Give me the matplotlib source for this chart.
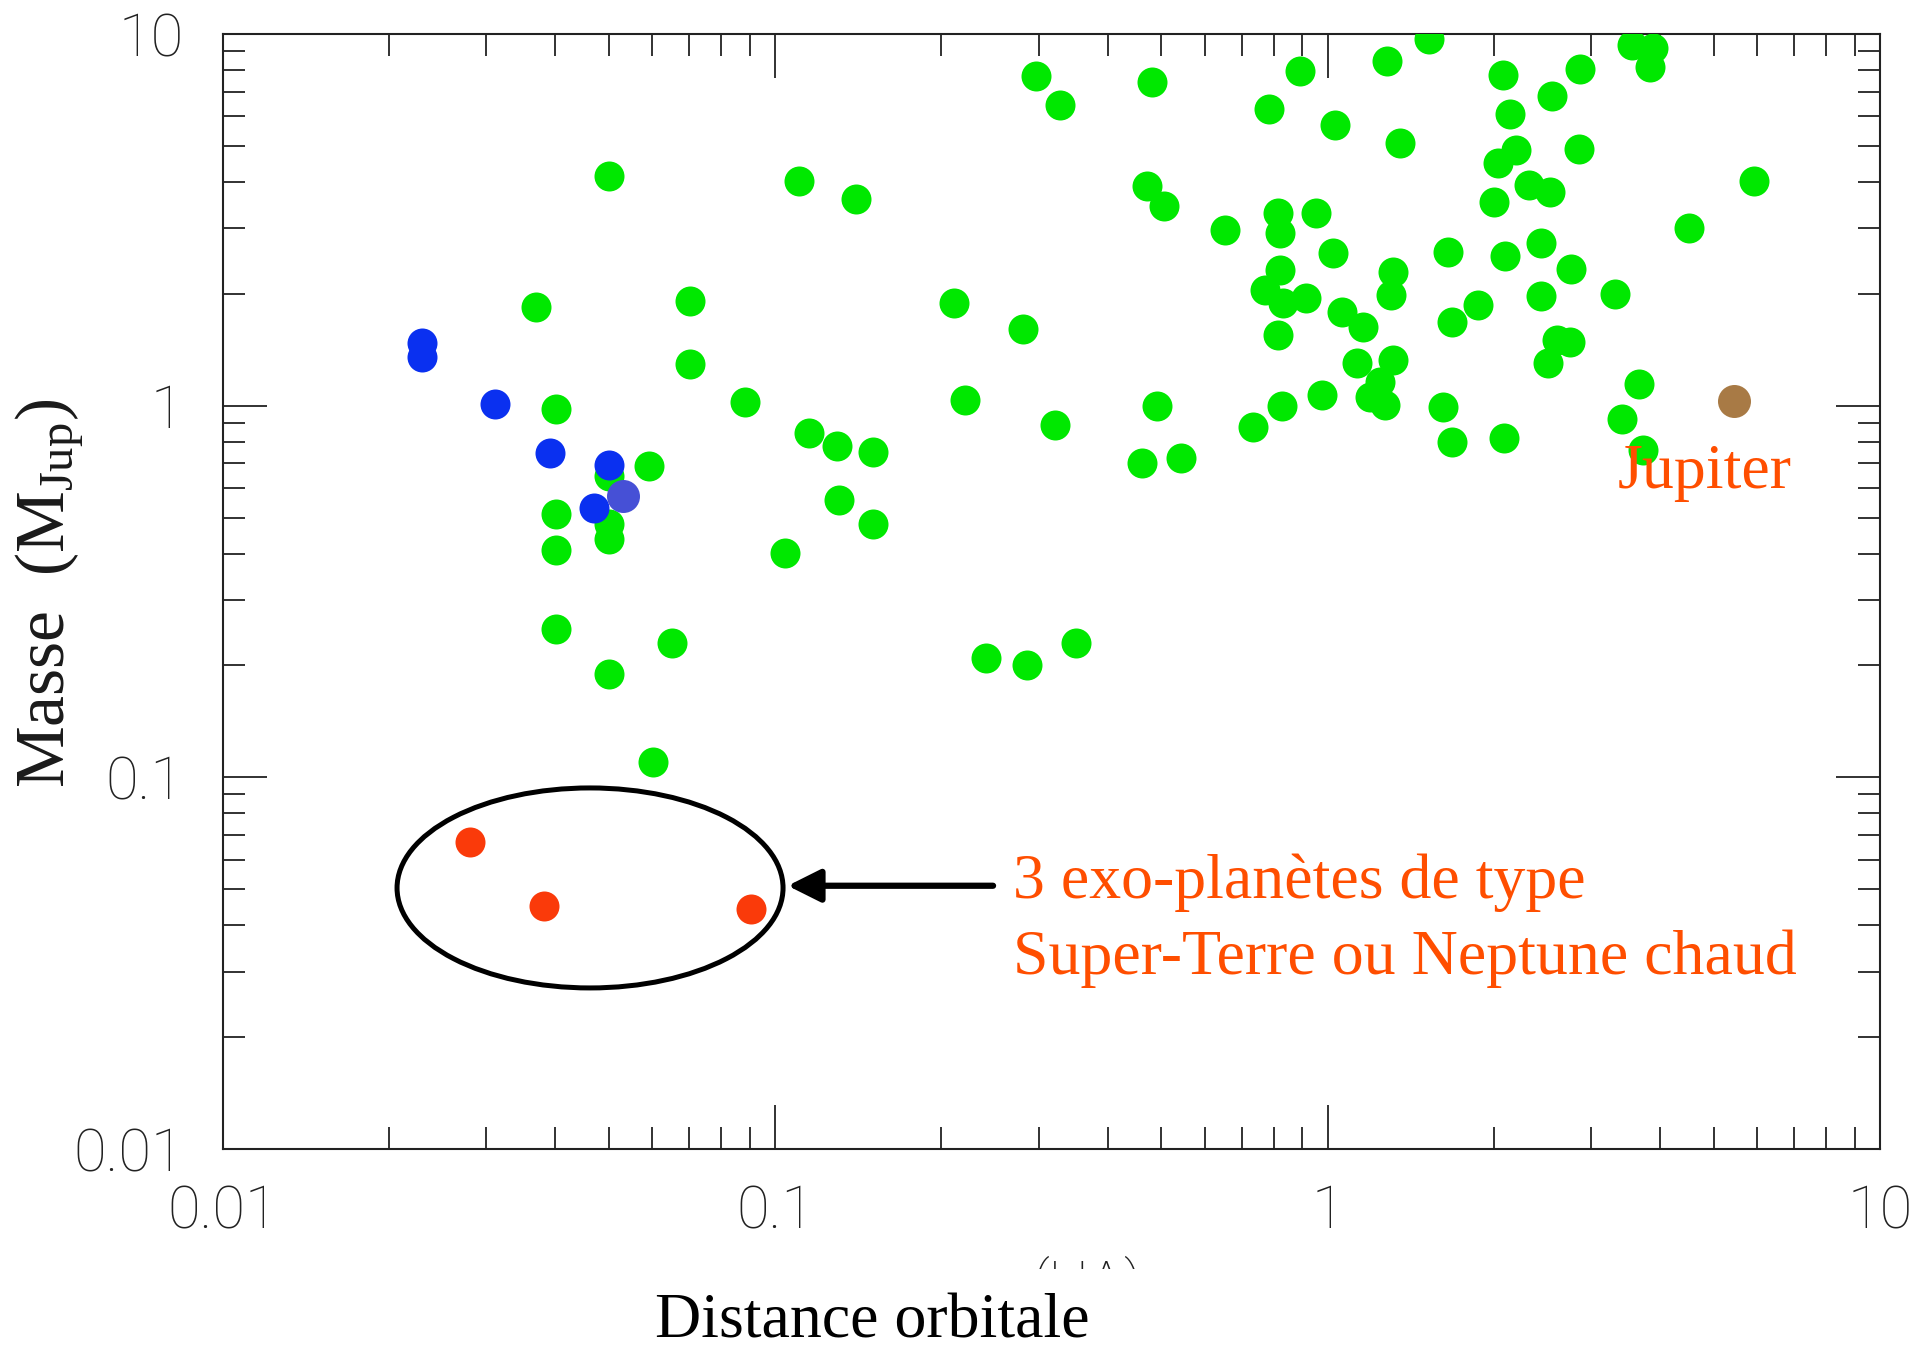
import matplotlib
matplotlib.use("Agg")
import matplotlib.pyplot as plt
import numpy as np
from matplotlib.patches import Ellipse
from matplotlib.ticker import FixedLocator, FixedFormatter, LogLocator, NullFormatter
from matplotlib.transforms import Bbox, TransformedBbox

# ---------------- data (orbital distance in AU, mass in M_Jup) ----------------
green_a = [0.0370, 0.0702, 0.0702, 0.0401, 0.0883, 0.1154, 0.1293, 0.1506, 0.1306, 0.1506,
           0.0592, 0.0501, 0.0501, 0.0501, 0.0401, 0.0401, 0.0401, 0.0652, 0.0501, 0.1042,
           0.0602, 0.0501, 0.1103, 0.1400, 0.2968, 0.3280, 0.4818, 0.4707, 0.5060, 0.2109,
           0.2808, 0.2211, 0.3212, 0.4920, 0.4621, 0.5424, 0.2410, 0.2855, 0.3506,
           0.6515, 0.7824, 0.8906, 1.031, 1.279, 1.354, 1.524, 2.076, 2.140, 2.549,
           2.869, 2.190, 2.035, 2.848, 3.557, 3.878, 3.841, 5.920, 4.515, 2.318,
           2.526, 2.001, 0.8147, 0.8204, 0.9520, 1.0245, 0.8204, 0.7707, 0.8318, 0.9144,
           0.8126, 1.061, 1.161, 1.129, 1.316, 1.245, 1.194, 1.271, 1.316, 1.302,
           0.9761, 0.8262, 0.7321, 1.654, 2.096, 2.432, 2.759, 2.432, 1.874, 1.678,
           2.600, 2.747, 2.510, 1.620, 1.678, 2.087, 3.311, 3.662, 3.407, 3.717]
green_m = [1.845, 1.912, 1.298, 0.979, 1.020, 0.842, 0.781, 0.751, 0.559, 0.480,
           0.689, 0.648, 0.481, 0.437, 0.510, 0.410, 0.251, 0.230, 0.190, 0.402,
           0.110, 4.149, 4.023, 3.592, 7.709, 6.457, 7.418, 3.893, 3.439, 1.887,
           1.608, 1.038, 0.889, 0.999, 0.701, 0.721, 0.210, 0.200, 0.230,
           2.976, 6.284, 7.962, 5.673, 8.450, 5.099, 9.694, 7.777, 6.104, 6.795,
           8.055, 4.862, 4.508, 4.895, 9.330, 9.182, 8.151, 4.033, 2.997, 3.929,
           3.746, 3.532, 3.293, 2.909, 3.293, 2.570, 2.317, 2.048, 1.886, 1.945,
           1.549, 1.789, 1.631, 1.300, 1.327, 1.160, 1.057, 1.004, 2.293, 1.985,
           1.068, 0.998, 0.876, 2.596, 2.527, 2.735, 2.328, 1.976, 1.866, 1.682,
           1.502, 1.486, 1.300, 0.990, 0.800, 0.817, 1.999, 1.147, 0.921, 0.761]

blue_a = [0.0230, 0.0230, 0.0311, 0.0392, 0.0501, 0.0471]
blue_m = [1.474, 1.349, 1.010, 0.748, 0.692, 0.530]

lightblue_a = [0.0530]
lightblue_m = [0.572]

red_a = [0.0280, 0.0382, 0.0903]
red_m = [0.0668, 0.0451, 0.0441]

jupiter_a = [5.44]
jupiter_m = [1.03]

xticks = [0.01, 0.1, 1, 10]
xticklabels = ["0.01", "0.1", "1", "10"]
yticks = [0.01, 0.1, 1, 10]
yticklabels = ["0.01", "0.1", "1", "10"]

# ---------------- styling ----------------
W, H = 1917, 1348
plt.rcParams['mathtext.fontset'] = 'custom'
plt.rcParams['mathtext.rm'] = 'Liberation Serif'
plt.rcParams['mathtext.it'] = 'Liberation Serif:italic'
plt.rcParams['mathtext.bf'] = 'Liberation Serif:bold'

thin_family = ['Roboto', 'DejaVu Sans']
serif_font = dict(family=['Liberation Serif', 'DejaVu Serif'])
orange = '#FF4E00'
axcol = '#222222'

fig = plt.figure(figsize=(W / 100, H / 100), dpi=100)
fig.patch.set_facecolor('white')

left, right, top, bottom = 222.5, 1880, 34, 1149
ax = fig.add_axes([left / W, 1 - bottom / H, (right - left) / W, (bottom - top) / H])
ax.set_xscale('log')
ax.set_yscale('log')
ax.set_xlim(0.01, 10)
ax.set_ylim(0.01, 10)

ms = (30 * 72 / 100) ** 2
ax.scatter(green_a, green_m, s=ms, color='#00E800', linewidths=0, zorder=3)
ax.scatter(blue_a, blue_m, s=ms, color='#0A30F0', linewidths=0, zorder=4)
ax.scatter(lightblue_a, lightblue_m, s=(33 * 0.72) ** 2, color='#4650D6', linewidths=0, zorder=5)
ax.scatter(red_a, red_m, s=ms, color='#FA3A0A', linewidths=0, zorder=5)
ax.scatter(jupiter_a, jupiter_m, s=(33 * 0.72) ** 2, color='#A87A45', linewidths=0, zorder=5)

# axes styling
for sp in ax.spines.values():
    sp.set_linewidth(1.5)
    sp.set_color(axcol)
ax.xaxis.set_major_locator(FixedLocator(xticks))
ax.xaxis.set_major_formatter(FixedFormatter(xticklabels))
ax.yaxis.set_major_locator(FixedLocator(yticks))
ax.yaxis.set_major_formatter(FixedFormatter(yticklabels))
ax.xaxis.set_minor_locator(LogLocator(base=10, subs=np.arange(2, 10), numticks=20))
ax.yaxis.set_minor_locator(LogLocator(base=10, subs=np.arange(2, 10), numticks=20))
ax.xaxis.set_minor_formatter(NullFormatter())
ax.yaxis.set_minor_formatter(NullFormatter())
ax.tick_params(which='both', direction='in', top=True, right=True, color=axcol, width=1.3)
ax.tick_params(which='major', length=31.7)
ax.tick_params(which='minor', length=15.8)
ax.tick_params(axis='x', which='major', pad=25, labelcolor=axcol)
ax.tick_params(axis='y', which='major', pad=28, labelcolor=axcol)
for lab in ax.get_xticklabels() + ax.get_yticklabels():
    lab.set_fontfamily(thin_family)
    lab.set_fontweight('light')
    lab.set_fontsize(43)

# ellipse around the three red planets (centred on their log-mean position)
cx = 10 ** np.mean(np.log10(red_a))
cy = 10 ** np.mean(np.log10(red_m))
pc = ax.transAxes.inverted().transform(ax.transData.transform((cx, cy)))
ell = Ellipse((pc[0] + 0.0012, pc[1] - 0.0018), width=386 / (right - left), height=200 / (bottom - top),
              transform=ax.transAxes, fill=False, edgecolor='black', linewidth=3.6,
              clip_on=False, zorder=6)
ax.add_patch(ell)

# arrow
ax.annotate('', xy=(0.3410, 0.2361), xytext=(0.4649, 0.2361),
            xycoords='axes fraction', textcoords='axes fraction',
            arrowprops=dict(arrowstyle='-|>,head_length=2.0,head_width=1.0', lw=4.5,
                            color='black', shrinkA=0, shrinkB=0, mutation_scale=10),
            annotation_clip=False, zorder=6)

# annotation texts
fig.text(1013 / W, 1 - 898 / H, "3 exo-planètes de type", color=orange, fontsize=46,
         va='baseline', ha='left', **serif_font)
fig.text(1013 / W, 1 - 974 / H, "Super-Terre ou Neptune chaud", color=orange, fontsize=46,
         va='baseline', ha='left', **serif_font)
fig.text(1618 / W, 1 - 488 / H, "Jupiter", color=orange, fontsize=46,
         va='baseline', ha='left', **serif_font)

# axis labels
fig.text(50 / W, 1 - 593 / H, "Masse  (M$_{\\mathrm{Jup}}$)", rotation=90, ha='center', va='center',
         fontsize=50, color='#1a1a1a', **serif_font)
fig.text(655 / W, 1 - 1338 / H, "Distance orbitale", color='black', fontsize=46,
         va='baseline', ha='left', **serif_font)

# remnant of the original unit label, cut off below
ua = fig.text(1087 / W, 1 - 1255 / H, "(UA)", ha='center', va='top', fontsize=43,
              color=axcol, family=thin_family, weight='light')
ua.set_clip_box(TransformedBbox(Bbox([[0.0, 1 - 1269 / H], [1.0, 1.0]]), fig.transFigure))
ua.set_clip_on(True)

fig.savefig('out.png', dpi=100, facecolor='white')
